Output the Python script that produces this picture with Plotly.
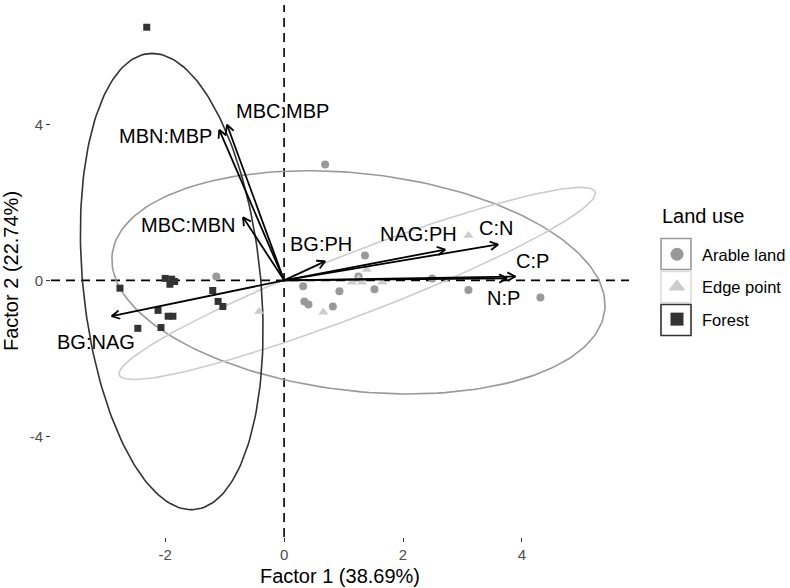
import numpy as np
import plotly.graph_objects as go

# ---------------- data ----------------
groups = ["Arable land", "Edge point", "Forest"]
group_colors = ["#999999", "#cccccc", "#333333"]
group_symbols = ["circle", "triangle-up", "square"]

arable_x = [-1.14, 0.69, 1.36, 0.32, 0.34, 0.41, 0.93, 1.25, 1.52, 0.82, 2.49, 3.10, 4.31]
arable_y = [0.10, 2.97, 0.64, -0.15, -0.54, -0.62, -0.28, 0.10, -0.23, -0.67, 0.05, -0.25, -0.44]

edge_x = [-0.42, 1.39, 1.14, 1.25, 1.31, 1.65, 0.66, 3.10]
edge_y = [-0.80, 0.28, -0.05, 0.05, -0.05, -0.05, -0.82, 1.15]

forest_x = [-2.31, -2.00, -1.89, -1.84, -1.92, -2.76, -1.20, -1.11, -1.03, -2.12, -1.95, -1.87, -2.46, -2.07]
forest_y = [6.49, 0.05, 0.03, -0.03, -0.10, -0.20, -0.26, -0.54, -0.67, -0.77, -0.92, -0.92, -1.23, -1.21]

# ellipse parameters (centre and two conjugate semi-axis vectors, data units)
ell_cx = [1.25, 1.23, -1.89]
ell_cy = [-0.05, -0.08, -0.03]
ell_ux = [4.12, 4.00, -0.33]
ell_uy = [-0.26, 2.35, 5.85]
ell_vx = [-0.47, 0.19, 1.50]
ell_vy = [2.85, -0.74, 0.00]

arrow_names = ["MBC:MBP", "MBN:MBP", "MBC:MBN", "BG:PH", "NAG:PH", "C:N", "C:P", "N:P", "BG:NAG"]
arrow_x = [-0.96, -1.09, -0.69, 0.69, 2.71, 3.60, 3.89, 3.75, -2.90]
arrow_y = [3.99, 3.86, 1.62, 0.49, 0.79, 0.92, 0.10, 0.05, -0.92]
label_x = [-0.03, -2.00, -1.61, 0.62, 2.26, 3.57, 4.18, 3.69, -3.16]
label_y = [4.35, 3.71, 1.42, 0.92, 1.20, 1.33, 0.49, -0.44, -1.59]

x_ticks = [-2, 0, 2, 4]
y_ticks = [-4, 0, 4]
x_title = "Factor 1 (38.69%)"
y_title = "Factor 2 (22.74%)"
legend_title = "Land use"

# ---------------- layout constants ----------------
W, H = 790, 588
ML, MR, MT, MB = 51, 161, 5, 51
x_range = [-3.92, 5.80]
y_range = [-6.58, 7.06]
PW, PH = W - ML - MR, H - MT - MB
sx = PW / (x_range[1] - x_range[0])
sy = PH / (y_range[1] - y_range[0])
FONT = "Liberation Sans, Arial, sans-serif"

fig = go.Figure()

# ellipses
t = np.linspace(0, 2 * np.pi, 200)
for i, g in enumerate(groups):
    ex = ell_cx[i] + ell_ux[i] * np.cos(t) + ell_vx[i] * np.sin(t)
    ey = ell_cy[i] + ell_uy[i] * np.cos(t) + ell_vy[i] * np.sin(t)
    fig.add_trace(go.Scatter(x=ex, y=ey, mode="lines",
                             line=dict(color=group_colors[i], width=1.6),
                             showlegend=False, hoverinfo="skip"))

# points
pts = [(arable_x, arable_y, 8), (edge_x, edge_y, 9), (forest_x, forest_y, 7)]
for i, (px, py, sz) in enumerate(pts):
    fig.add_trace(go.Scatter(x=px, y=py, mode="markers", name=groups[i],
                             marker=dict(color=group_colors[i], symbol=group_symbols[i], size=sz),
                             showlegend=False, legendgroup=groups[i]))

# legend-only entries
leg_sizes = [13, 15, 13]
for i, g in enumerate(groups):
    fig.add_trace(go.Scatter(x=[None], y=[None], mode="markers", name=g,
                             marker=dict(color=group_colors[i], symbol=group_symbols[i], size=leg_sizes[i]),
                             legendgroup=g, showlegend=True))

# arrows (shaft + open head computed in pixel space)
ax, ay = [], []
head_len, head_ang = 9.0, np.deg2rad(28)
for tx, ty in zip(arrow_x, arrow_y):
    ax += [0, tx, None]
    ay += [0, ty, None]
    dx, dy = tx * sx, ty * sy
    n = np.hypot(dx, dy)
    bx, by = -dx / n, -dy / n
    for s in (1, -1):
        c, si = np.cos(s * head_ang), np.sin(s * head_ang)
        hx = bx * c - by * si
        hy = bx * si + by * c
        ax += [tx + hx * head_len / sx, tx, None]
        ay += [ty + hy * head_len / sy, ty, None]
fig.add_trace(go.Scatter(x=ax, y=ay, mode="lines", line=dict(color="black", width=1.8),
                         showlegend=False, hoverinfo="skip"))

for nm, lx, ly in zip(arrow_names, label_x, label_y):
    fig.add_annotation(x=lx, y=ly, text=nm, showarrow=False, xanchor="center", yanchor="middle",
                       font=dict(family=FONT, size=20, color="black"))

# dashed reference lines
fig.add_shape(type="line", xref="x", yref="paper", x0=0, x1=0, y0=0, y1=1,
              line=dict(color="black", width=1.6, dash="9px,6px"), layer="below")
fig.add_shape(type="line", xref="paper", yref="y", x0=0, x1=1, y0=0, y1=0,
              line=dict(color="black", width=1.6, dash="9px,6px"), layer="below")

# legend key boxes
def to_paper(px_, py_):
    return (px_ - ML) / PW, (H - MB - py_) / PH

key_centers = [254, 287, 320]
for i, cy in enumerate(key_centers):
    x0, y0 = to_paper(661, cy + 15.5)
    x1, y1 = to_paper(691, cy - 15.5)
    fig.add_shape(type="rect", xref="paper", yref="paper", x0=x0, x1=x1, y0=y0, y1=y1,
                  line=dict(color=group_colors[i] if i != 1 else "#dddddd", width=1.6),
                  fillcolor="rgba(0,0,0,0)")

# legend title
tx_, ty_ = to_paper(660, 216)
fig.add_annotation(xref="paper", yref="paper", x=tx_, y=ty_, text=legend_title, showarrow=False,
                   xanchor="left", yanchor="middle", font=dict(family=FONT, size=20, color="black"))

fig.update_layout(
    width=W, height=H,
    margin=dict(l=ML, r=MR, t=MT, b=MB, autoexpand=False),
    paper_bgcolor="white", plot_bgcolor="white",
    font=dict(family=FONT, color="black"),
    xaxis=dict(range=x_range, showgrid=False, zeroline=False, showline=False,
               tickvals=x_ticks, ticktext=[str(v) for v in x_ticks],
               ticks="outside", ticklen=4, tickwidth=1.2, tickcolor="#333333",
               tickfont=dict(size=15, color="#4d4d4d"),
               title=dict(text=x_title, font=dict(size=20, color="black"), standoff=6)),
    yaxis=dict(range=y_range, showgrid=False, zeroline=False, showline=False,
               tickvals=y_ticks, ticktext=[str(v) for v in y_ticks],
               ticks="outside", ticklen=4, tickwidth=1.2, tickcolor="#333333",
               tickfont=dict(size=15, color="#4d4d4d"),
               title=dict(text=y_title, font=dict(size=20, color="black"), standoff=6)),
    showlegend=True,
    legend=dict(xref="container", yref="container", x=652 / W, y=1 - 237 / H,
                xanchor="left", yanchor="top", traceorder="grouped",
                tracegroupgap=8, itemwidth=40, itemsizing="trace",
                bgcolor="rgba(0,0,0,0)",
                font=dict(size=16.5, color="black")),
)

fig.write_html("out.html")
